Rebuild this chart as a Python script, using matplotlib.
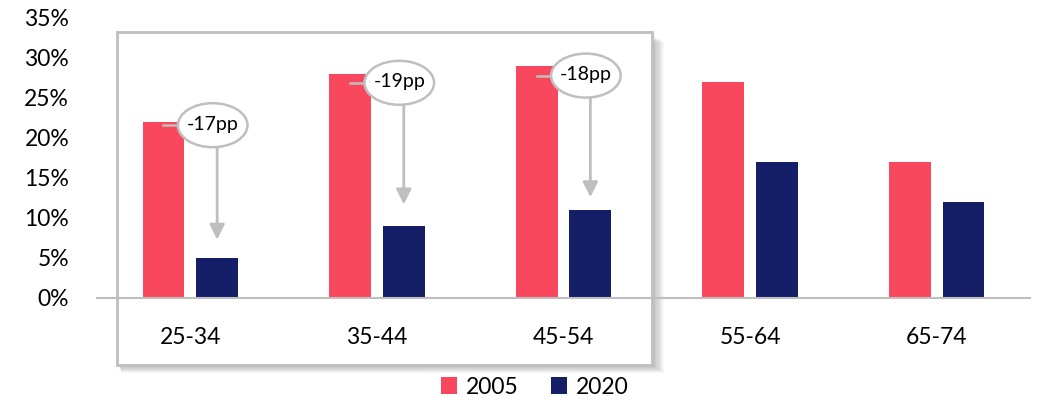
import matplotlib.pyplot as plt
from matplotlib.patches import Ellipse, Rectangle, Patch
import numpy as np

plt.rcParams['font.family'] = ['Lato', 'DejaVu Sans']

# Datos
grupos = ['25-34', '35-44', '45-54', '55-64', '65-74']
valores_2005 = [22, 28, 29, 27, 17]
valores_2020 = [5, 9, 11, 17, 12]
etiquetas_cambio = ['-17pp', '-19pp', '-18pp']
altura_etiqueta = [21.6, 26.9, 27.8]   # centro de la elipse
punta_flecha = [7.3, 11.7, 12.6]

rojo = '#F9485E'
azul = '#151F68'
gris = '#BFBFBF'

fig = plt.figure(figsize=(10.38, 4.01), dpi=100)

# Recuadro con sombra suave alrededor de los tres primeros grupos
x0, y0, x1, y1 = 117 / 1038, 1 - 365 / 401, 652 / 1038, 1 - 32 / 401
for k in range(8):
    d = 8 - k
    fig.patches.append(Rectangle((x0 + (d / 2) / 1038, y0 - d / 401),
                                 x1 - x0 + d / 1038, y1 - y0 - 2 / 401,
                                 transform=fig.transFigure, facecolor='black',
                                 edgecolor='none', alpha=0.035, zorder=0))
fig.patches.append(Rectangle((x0, y0), x1 - x0, y1 - y0, transform=fig.transFigure,
                             facecolor='white', edgecolor=gris, linewidth=2, zorder=1))

ax = fig.add_axes([97 / 1038, 1 - 298 / 401, 933 / 1038, 280 / 401])
ax.patch.set_alpha(0)
ax.set_zorder(2)

x = np.arange(len(grupos))
ancho = 0.224
desp = 0.144
ax.bar(x - desp, valores_2005, ancho, color=rojo, zorder=2)
ax.bar(x + desp, valores_2020, ancho, color=azul, zorder=2)

# Anotaciones de cambio
for i, txt in enumerate(etiquetas_cambio):
    cx = x[i] + 0.12
    cy = altura_etiqueta[i]
    ax.plot([x[i] - desp, cx], [cy, cy], color=gris, lw=1.8, zorder=3)
    ax.add_patch(Ellipse((cx, cy), 0.373, 5.5, facecolor='white', edgecolor=gris,
                         lw=1.8, zorder=4))
    ax.text(cx, cy + 0.1, txt, ha='center', va='center', fontsize=14, zorder=5)
    ax.annotate('', xy=(x[i] + desp, punta_flecha[i]), xytext=(x[i] + desp, cy - 2.75),
                arrowprops=dict(arrowstyle='-|>,head_length=0.9,head_width=0.45',
                                color=gris, lw=2, shrinkA=0, shrinkB=0), zorder=3)

ax.set_xlim(-0.5, 4.5)
ax.set_ylim(0, 35)
ax.set_yticks(range(0, 40, 5))
ax.set_yticklabels([f'{v}%' for v in range(0, 40, 5)], fontsize=16.5)
ax.set_xticks(x)
ax.set_xticklabels(grupos, fontsize=16.5)
ax.tick_params(axis='y', length=0, pad=20)
ax.tick_params(axis='x', length=0, pad=21)
for lado in ['left', 'right', 'top']:
    ax.spines[lado].set_visible(False)
ax.spines['bottom'].set_color(gris)
ax.spines['bottom'].set_linewidth(1.5)

manijas = [Patch(facecolor=rojo, label='2005'), Patch(facecolor=azul, label='2020')]
fig.legend(handles=manijas, loc='center', bbox_to_anchor=(535 / 1038, 1 - 387 / 401),
           ncol=2, frameon=False, fontsize=16.5, handlelength=0.7, handleheight=0.7,
           handletextpad=0.4, columnspacing=1.4)

fig.savefig('out.png', dpi=100)
